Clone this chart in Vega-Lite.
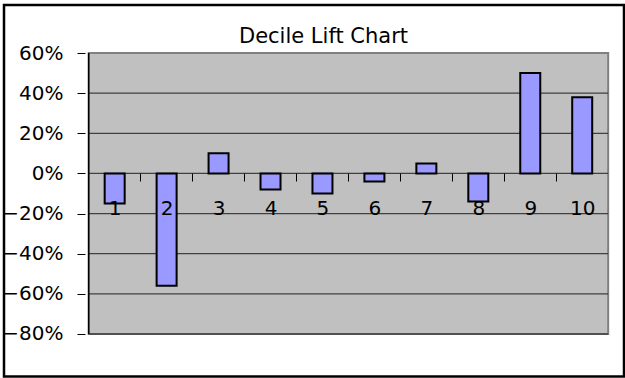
{
  "$schema": "https://vega.github.io/schema/vega-lite/v6.json",
  "width": 620,
  "height": 371.5,
  "autosize": {"type": "none"},
  "padding": {"left": 4, "top": 5, "right": 1, "bottom": 1.5},
  "background": "white",
  "title": {
    "text": "Decile Lift Chart",
    "font": "DejaVu Sans",
    "fontSize": 21,
    "fontWeight": "normal",
    "color": "black",
    "anchor": "middle",
    "frame": "group",
    "baseline": "alphabetic",
    "offset": -59,
    "dx": 9.5
  },
  "datasets": {
    "deciles": [
      {"decile": 1, "lift": -0.15},
      {"decile": 2, "lift": -0.56},
      {"decile": 3, "lift": 0.10},
      {"decile": 4, "lift": -0.08},
      {"decile": 5, "lift": -0.10},
      {"decile": 6, "lift": -0.04},
      {"decile": 7, "lift": 0.05},
      {"decile": 8, "lift": -0.14},
      {"decile": 9, "lift": 0.50},
      {"decile": 10, "lift": 0.38}
    ],
    "gridlines": [
      {"level": -0.8},
      {"level": -0.6},
      {"level": -0.4},
      {"level": -0.2},
      {"level": 0.0},
      {"level": 0.2},
      {"level": 0.4}
    ],
    "frame": [{"part": "plot"}]
  },
  "config": {
    "view": {"stroke": "black", "strokeWidth": 2.5, "fill": "white"},
    "axis": {
      "labelFont": "DejaVu Sans",
      "labelFontSize": 20,
      "labelColor": "black",
      "tickColor": "black",
      "tickWidth": 1
    }
  },
  "layer": [
    {
      "data": {"name": "frame"},
      "mark": {"type": "rect", "fill": "#C0C0C0", "stroke": "#808080", "strokeWidth": 2},
      "encoding": {
        "x": {
          "datum": 0.5,
          "type": "quantitative",
          "scale": {"domain": [-1.0341, 10.7083], "nice": false, "zero": false},
          "axis": {
            "title": null,
            "orient": "bottom",
            "offset": -203.5,
            "values": [1, 2, 3, 4, 5, 6, 7, 8, 9, 10, 11],
            "labelExpr": "datum.value > 10 ? '' : datum.label",
            "domain": false,
            "grid": false,
            "tickSize": 8,
            "tickOffset": -26.4,
            "labelOffset": 26.4,
            "labelPadding": 17,
            "labelBaseline": "top",
            "labelFlush": false,
            "labelOverlap": false,
            "zindex": 1
          }
        },
        "x2": {"datum": 10.5},
        "y": {
          "datum": 0.6,
          "type": "quantitative",
          "scale": {"domain": [-1.0118, 0.8392], "nice": false, "zero": false},
          "axis": {
            "title": null,
            "offset": -81,
            "values": [-0.8, -0.6, -0.4, -0.2, 0, 0.2, 0.4, 0.6],
            "format": ".0%",
            "domain": false,
            "grid": false,
            "tickSize": 8,
            "labelPadding": 14,
            "labelFlush": false,
            "labelOverlap": false,
            "zindex": 1
          }
        },
        "y2": {"datum": -0.8}
      }
    },
    {
      "data": {"name": "gridlines"},
      "mark": {"type": "rule", "color": "#404040", "strokeWidth": 1.3},
      "encoding": {
        "x": {"datum": 0.5, "type": "quantitative", "axis": {"title": null}},
        "x2": {"datum": 10.5},
        "y": {"field": "level", "type": "quantitative", "axis": {"title": null}}
      }
    },
    {
      "data": {"name": "frame"},
      "mark": {"type": "rule", "color": "black", "strokeWidth": 1.5},
      "encoding": {
        "x": {"datum": 0.5, "type": "quantitative", "axis": {"title": null}},
        "y": {"datum": 0.6, "type": "quantitative", "axis": {"title": null}},
        "y2": {"datum": -0.8}
      }
    },
    {
      "data": {"name": "deciles"},
      "mark": {"type": "bar", "orient": "vertical", "size": 20, "fill": "#9999FF", "stroke": "black", "strokeWidth": 2},
      "encoding": {
        "x": {"field": "decile", "type": "quantitative", "axis": {"title": null}},
        "y": {"field": "lift", "type": "quantitative", "axis": {"title": null}},
        "y2": {"datum": 0}
      }
    }
  ]
}
